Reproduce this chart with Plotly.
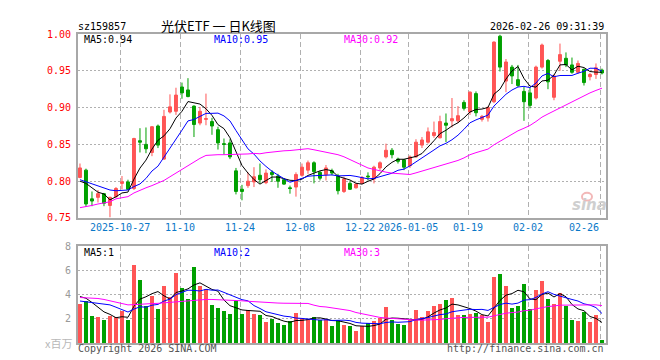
import plotly.graph_objects as go

# ---------------- data ----------------
dates = [
    "2025-10-16", "2025-10-17",
    "2025-10-20", "2025-10-21", "2025-10-22", "2025-10-23", "2025-10-24",
    "2025-10-27", "2025-10-28", "2025-10-29", "2025-10-30", "2025-10-31",
    "2025-11-03", "2025-11-04", "2025-11-05", "2025-11-06", "2025-11-07",
    "2025-11-10", "2025-11-11", "2025-11-12", "2025-11-13", "2025-11-14",
    "2025-11-17", "2025-11-18", "2025-11-19", "2025-11-20", "2025-11-21",
    "2025-11-24", "2025-11-25", "2025-11-26", "2025-11-27", "2025-11-28",
    "2025-12-01", "2025-12-02", "2025-12-03", "2025-12-04", "2025-12-05",
    "2025-12-08", "2025-12-09", "2025-12-10", "2025-12-11", "2025-12-12",
    "2025-12-15", "2025-12-16", "2025-12-17", "2025-12-18", "2025-12-19",
    "2025-12-22", "2025-12-23", "2025-12-24", "2025-12-25", "2025-12-26",
    "2025-12-29", "2025-12-30", "2025-12-31",
    "2026-01-05", "2026-01-06", "2026-01-07", "2026-01-08", "2026-01-09",
    "2026-01-12", "2026-01-13", "2026-01-14", "2026-01-15", "2026-01-16",
    "2026-01-19", "2026-01-20", "2026-01-21", "2026-01-22", "2026-01-23",
    "2026-01-26", "2026-01-27", "2026-01-28", "2026-01-29", "2026-01-30",
    "2026-02-02", "2026-02-03", "2026-02-04", "2026-02-05", "2026-02-06",
    "2026-02-09", "2026-02-10", "2026-02-11", "2026-02-12", "2026-02-13",
    "2026-02-24", "2026-02-25", "2026-02-26",
]

open_ = [0.805, 0.815, 0.776, 0.778, 0.783, 0.767, 0.779, 0.797, 0.799, 0.790,
         0.855, 0.850, 0.839, 0.875, 0.830, 0.894, 0.895, 0.928, 0.924, 0.902,
         0.879, 0.884, 0.881, 0.870, 0.851, 0.852, 0.814, 0.789, 0.794, 0.799,
         0.808, 0.798, 0.812, 0.807, 0.802, 0.791, 0.792, 0.808, 0.815, 0.825,
         0.812, 0.809, 0.814, 0.807, 0.786, 0.797, 0.791, 0.797, 0.807, 0.803,
         0.818, 0.833, 0.842, 0.830, 0.829, 0.821, 0.833, 0.849, 0.853, 0.862,
         0.859, 0.879, 0.882, 0.882, 0.907, 0.894, 0.919, 0.884, 0.886, 0.908,
         0.997, 0.936, 0.955, 0.938, 0.922, 0.920, 0.913, 0.955, 0.964, 0.914,
         0.963, 0.967, 0.958, 0.948, 0.952, 0.942, 0.945, 0.951]
high = [0.824, 0.817, 0.786, 0.788, 0.784, 0.779, 0.792, 0.807, 0.802, 0.859,
        0.872, 0.873, 0.875, 0.877, 0.897, 0.918, 0.927, 0.934, 0.940, 0.903,
        0.901, 0.919, 0.886, 0.874, 0.858, 0.857, 0.818, 0.795, 0.812, 0.819,
        0.824, 0.816, 0.815, 0.810, 0.804, 0.794, 0.812, 0.824, 0.828, 0.827,
        0.814, 0.822, 0.817, 0.810, 0.806, 0.800, 0.797, 0.807, 0.812, 0.821,
        0.827, 0.851, 0.845, 0.832, 0.830, 0.835, 0.857, 0.860, 0.873, 0.881,
        0.889, 0.892, 0.913, 0.902, 0.910, 0.922, 0.922, 0.890, 0.902, 0.990,
        0.999, 0.966, 0.958, 0.958, 0.928, 0.927, 0.957, 0.987, 0.966, 0.945,
        0.987, 0.975, 0.968, 0.964, 0.953, 0.947, 0.960, 0.953]
low = [0.804, 0.765, 0.766, 0.771, 0.766, 0.751, 0.777, 0.789, 0.788, 0.788,
       0.839, 0.838, 0.834, 0.845, 0.829, 0.892, 0.890, 0.912, 0.914, 0.860,
       0.876, 0.876, 0.863, 0.843, 0.836, 0.830, 0.782, 0.774, 0.791, 0.792,
       0.797, 0.796, 0.799, 0.791, 0.795, 0.783, 0.779, 0.806, 0.810, 0.797,
       0.801, 0.801, 0.808, 0.782, 0.784, 0.788, 0.790, 0.796, 0.801, 0.797,
       0.815, 0.831, 0.831, 0.824, 0.815, 0.818, 0.832, 0.845, 0.851, 0.859,
       0.858, 0.853, 0.873, 0.879, 0.896, 0.890, 0.888, 0.881, 0.881, 0.906,
       0.949, 0.921, 0.932, 0.928, 0.882, 0.899, 0.911, 0.953, 0.925, 0.910,
       0.950, 0.955, 0.946, 0.946, 0.930, 0.937, 0.939, 0.945]
close = [0.818, 0.769, 0.773, 0.783, 0.770, 0.778, 0.790, 0.799, 0.789, 0.858,
         0.853, 0.844, 0.874, 0.849, 0.888, 0.901, 0.917, 0.920, 0.915, 0.877,
         0.895, 0.885, 0.875, 0.852, 0.850, 0.833, 0.786, 0.786, 0.800, 0.806,
         0.802, 0.811, 0.809, 0.800, 0.796, 0.790, 0.809, 0.819, 0.825, 0.813,
         0.804, 0.818, 0.811, 0.787, 0.803, 0.789, 0.796, 0.805, 0.806, 0.819,
         0.825, 0.842, 0.836, 0.827, 0.819, 0.833, 0.853, 0.856, 0.867, 0.866,
         0.881, 0.876, 0.885, 0.889, 0.899, 0.921, 0.893, 0.888, 0.900, 0.989,
         0.955, 0.962, 0.943, 0.930, 0.908, 0.903, 0.955, 0.985, 0.935, 0.943,
         0.972, 0.958, 0.948, 0.960, 0.934, 0.945, 0.954, 0.947]
# volume, millions of shares
volume = [3.23, 3.47, 2.19, 2.10, 1.87, 2.19, 2.10, 2.59, 1.87, 6.43,
          5.15, 3.07, 3.87, 2.75, 4.67, 3.79, 5.79, 4.51, 3.63, 6.27,
          4.67, 4.43, 3.15, 2.91, 2.59, 2.35, 3.47, 2.35, 2.67, 2.35,
          2.27, 1.71, 1.95, 1.63, 1.47, 1.79, 2.43, 2.03, 1.95, 2.11,
          1.87, 1.95, 1.39, 1.87, 1.47, 1.39, 0.99, 1.39, 1.63, 1.79,
          2.03, 2.99, 1.87, 1.55, 1.47, 1.92, 2.73, 2.09, 2.58, 3.05,
          3.21, 3.53, 3.70, 2.25, 2.33, 2.41, 2.49, 2.25, 1.70, 5.45,
          5.70, 4.67, 2.91, 3.07, 4.83, 2.75, 4.35, 5.07, 3.63, 3.23,
          4.11, 3.07, 1.87, 1.79, 2.51, 1.71, 2.27, 0.19]

# moving-average values at the start of the window (history before the
# first visible day is not shown, so these are read off the picture)
ma5_price_head = [0.800, 0.797, 0.791, 0.785]
ma10_price_head = [0.802, 0.799, 0.796, 0.793, 0.790, 0.788, 0.787, 0.787, 0.788]
ma30_price_head = [0.764, 0.765, 0.767, 0.769, 0.771, 0.772, 0.776, 0.777, 0.779,
                   0.784, 0.788, 0.791, 0.794, 0.797, 0.801, 0.806, 0.811, 0.816,
                   0.822, 0.827, 0.831, 0.835, 0.836, 0.836, 0.836, 0.836, 0.836,
                   0.836, 0.837]
ma5_vol_head = [3.84, 3.70, 3.35, 2.95]
ma10_vol_head = [3.47, 3.41, 3.36, 3.28, 3.23, 3.15, 2.96, 2.75, 2.56]
ma30_vol_head = [3.76, 3.74, 3.72, 3.68, 3.60, 3.49, 3.36, 3.23, 3.15, 3.17,
                 3.22, 3.24, 3.26, 3.28, 3.32, 3.37, 3.41, 3.47, 3.53, 3.57,
                 3.59, 3.60, 3.60, 3.59, 3.58, 3.55, 3.52, 3.49, 3.45]

tick_dates = ["2025-10-27", "2025-11-10", "2025-11-24", "2025-12-08", "2025-12-22",
              "2026-01-05", "2026-01-19", "2026-02-02", "2026-02-26"]
tick_text = ["2025-10-27", "11-10", "11-24", "12-08", "12-22",
             "2026-01-05", "01-19", "02-02", "02-26"]
price_ticks = [0.75, 0.80, 0.85, 0.90, 0.95, 1.00]
vol_ticks = [2, 4, 6, 8]

code = "sz159857"
title = "光伏ETF 一 日K线图"
stamp = "2026-02-26 09:31:39"
ma_price_labels = ["MA5:0.94", "MA10:0.95", "MA30:0.92"]
ma_vol_labels = ["MA5:1", "MA10:2", "MA30:3"]


def moving_avg(vals, n, head):
    out = []
    for i in range(len(vals)):
        if i < n - 1:
            out.append(head[i])
        else:
            out.append(sum(vals[i - n + 1:i + 1]) / n)
    return out


# ---------------- figure ----------------
W, H = 660, 360
RED = "#ff5555"
GREEN = "#00a000"
MONO = "DejaVu Sans Mono"
GRID = "#b0b0b0"
BORDER = "#a8a8a8"

x = list(range(len(dates)))
tickvals = [dates.index(d) - 0.28 for d in tick_dates]

L, R = 70, 598
px = lambda v: v / W
py = lambda v: 1 - v / H

fig = go.Figure()

fig.add_trace(go.Candlestick(
    x=x, open=open_, high=high, low=low, close=close,
    increasing=dict(line=dict(color=RED, width=1), fillcolor=RED),
    decreasing=dict(line=dict(color=GREEN, width=1), fillcolor=GREEN),
    whiskerwidth=0, xaxis="x", yaxis="y", showlegend=False, hoverinfo="skip",
))

ma_colors = ["#000000", "#0000ff", "#ff00ff"]
for n, head, col in zip([5, 10, 30],
                        [ma5_price_head, ma10_price_head, ma30_price_head],
                        ma_colors):
    fig.add_trace(go.Scatter(x=x, y=moving_avg(close, n, head), mode="lines",
                             line=dict(color=col, width=1),
                             xaxis="x", yaxis="y", showlegend=False,
                             hoverinfo="skip"))

bar_colors = [RED if c >= o else GREEN for o, c in zip(open_, close)]
fig.add_trace(go.Bar(x=x, y=volume, marker=dict(color=bar_colors, line=dict(width=0)),
                     width=0.82, xaxis="x2", yaxis="y2", showlegend=False,
                     hoverinfo="skip"))
for n, head, col in zip([5, 10, 30],
                        [ma5_vol_head, ma10_vol_head, ma30_vol_head],
                        ma_colors):
    fig.add_trace(go.Scatter(x=x, y=moving_avg(volume, n, head), mode="lines",
                             line=dict(color=col, width=1),
                             xaxis="x2", yaxis="y2", showlegend=False,
                             hoverinfo="skip"))

xrange = [-0.33, len(dates) - 0.33]
common_x = dict(domain=[px(L), px(R)], range=xrange, showgrid=True,
                gridcolor=GRID, griddash="5px,3px", gridwidth=1,
                showline=True, mirror=True, linecolor=BORDER, linewidth=2,
                zeroline=False, ticks="", tickvals=tickvals,
                showticklabels=False, fixedrange=True)

annotations = []


def txt(s, xx, yy, color="#000000", size=10, anchor="left", family=MONO,
        xref="paper", **kw):
    annotations.append(dict(text=s, x=px(xx) if xref == "paper" else xx, y=py(yy),
                            xref=xref, yref="paper",
                            xanchor=anchor, yanchor="middle", showarrow=False,
                            font=dict(family=family, size=size, color=color), **kw))


# date labels under the price panel (the last one is kept inside the frame)
for k, (tv, tt) in enumerate(zip(tickvals, tick_text)):
    if k == len(tick_text) - 1:
        txt(tt, tv, 221, color="#0a78c8", anchor="right", xref="x", xshift=1)
    else:
        txt(tt, tv, 221, color="#0a78c8", anchor="center", xref="x")

txt(code, 68, 13)
txt(title, 210, 12, size=13, anchor="center", family="Noto Sans CJK SC")
txt(stamp, 598, 13, anchor="right")
for lab, xx, col in zip(ma_price_labels, [74, 204, 334], ma_colors):
    txt(lab, xx, 26.5, color=col)
for lab, xx, col in zip(ma_vol_labels, [74, 204, 334], ma_colors):
    txt(lab, xx, 246.5, color=col)
txt("x百万", 66, 340, color="#b8b8b8", size=11, anchor="right",
    family="Noto Sans CJK SC")
txt("Copyright 2026 SINA.COM", 68, 346, color="#555555")
txt("http://finance.sina.com.cn", 598, 346, color="#555555", anchor="right")
txt("<b><i>sina</i></b>", 581, 198, color="#cfcfcf", size=15, anchor="center",
    family="DejaVu Sans")

fig.update_layout(
    width=W, height=H, margin=dict(l=0, r=0, t=0, b=0),
    paper_bgcolor="white", plot_bgcolor="white",
    showlegend=False, bargap=0,
    xaxis=dict(**common_x, anchor="y", rangeslider=dict(visible=False)),
    xaxis2=dict(**common_x, anchor="y2", matches="x"),
    yaxis=dict(domain=[py(211), py(20.7)], range=[0.75, 1.00],
               tickvals=price_ticks, ticktext=["%.2f" % v for v in price_ticks],
               tickfont=dict(family=MONO, size=10, color="#ff0000"),
               ticklabelstandoff=3,
               showgrid=True, gridcolor=GRID, griddash="2px,2px",
               showline=True, mirror=True, linecolor=BORDER, linewidth=2,
               zeroline=False, ticks="", fixedrange=True),
    yaxis2=dict(domain=[py(340.3), py(240.3)], range=[0, 8],
                tickvals=vol_ticks, ticktext=[str(v) for v in vol_ticks],
                tickfont=dict(family=MONO, size=10, color="#999999"),
                ticklabelstandoff=3,
                showgrid=True, gridcolor=GRID, griddash="2px,2px",
                showline=True, mirror=True, linecolor=BORDER, linewidth=2,
                zeroline=False, ticks="", fixedrange=True),
    annotations=annotations,
    shapes=[dict(type="circle", xref="paper", yref="paper",
                 x0=px(574), x1=px(584), y0=py(193), y1=py(185),
                 line=dict(color="#f2b8b8", width=2))],
)

fig.write_html("out.html")
